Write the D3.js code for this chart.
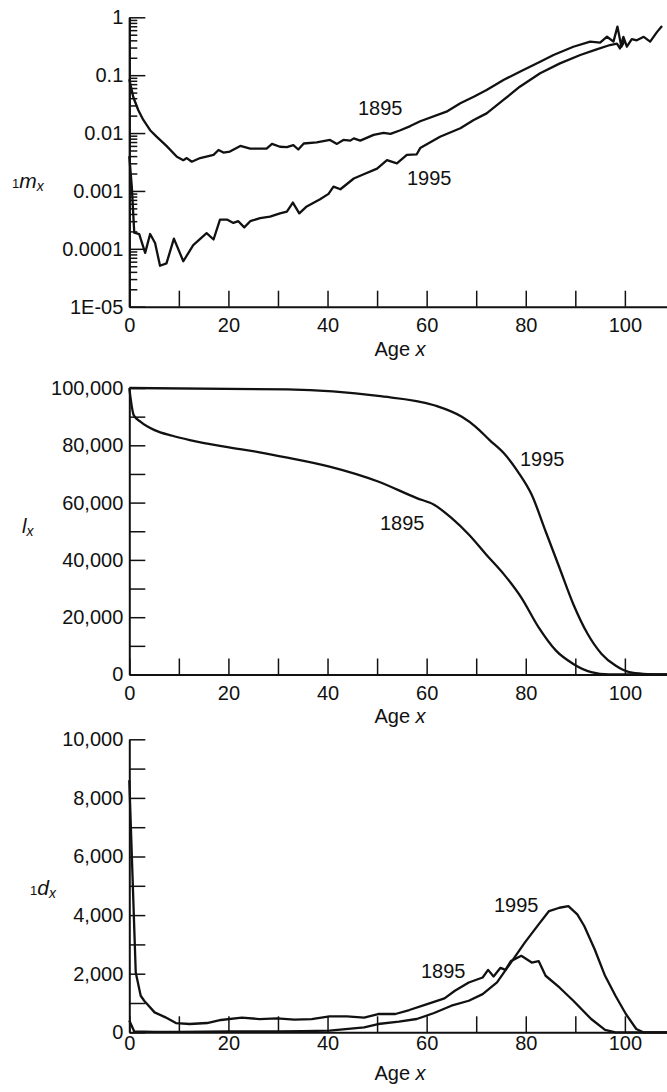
<!DOCTYPE html>
<html>
<head>
<meta charset="utf-8">
<script src="https://cdn.jsdelivr.net/npm/d3@7"></script>
<style>
  body { margin: 0; background: #fff; }
  svg { display: block; font-family: "Liberation Sans", Arial, sans-serif; }
  .axis path { stroke: #111; stroke-width: 2; }
  .axis line { stroke: #111; stroke-width: 1.5; }
  .axis text { font-size: 20px; fill: #111; font-family: "Liberation Sans", Arial, sans-serif; }
  .curve { fill: none; stroke: #111; stroke-width: 2.3; stroke-linejoin: round; }
  .lbl { font-size: 20px; fill: #111; }
</style>
</head>
<body>
<svg id="chart" width="667" height="1092"></svg>
<script>
// ---- data ----
// death rates 1mx (log scale)
var mxAge1895 = [0, 0.8, 1.8, 2.8, 4.2, 5.5, 7.5, 9.6, 10.9, 11.6, 12.6, 14.3, 17, 18, 19, 20.3, 22.4, 24.4, 27.7, 28.8, 30.4, 31.8, 33.1, 34.1, 35.2, 37.8, 40.5, 41.9, 43.2, 44.6, 45.3, 46.6, 49.3, 51.3, 52.7, 54.7, 56.7, 58.7, 64, 66.8, 69.5, 72.1, 75.5, 78.8, 82.9, 85.6, 89.6, 93, 95, 96.4, 97.7, 98.5, 99.3, 100];
var mx1895 = [0.085, 0.042, 0.025, 0.017, 0.0112, 0.0087, 0.006, 0.0039, 0.0034, 0.0037, 0.0032, 0.0037, 0.0042, 0.0051, 0.0046, 0.0048, 0.006, 0.0054, 0.0054, 0.0065, 0.0058, 0.0057, 0.0062, 0.0052, 0.0066, 0.0069, 0.0076, 0.0065, 0.0076, 0.0074, 0.0081, 0.0074, 0.0093, 0.0101, 0.0097, 0.0112, 0.0132, 0.016, 0.0234, 0.0327, 0.0425, 0.0555, 0.0826, 0.115, 0.171, 0.223, 0.31, 0.379, 0.364, 0.462, 0.38, 0.69, 0.31, 0.40];
var mxAge1995 = [0, 0.5, 1, 2, 3.2, 4.2, 5.2, 6.2, 7.5, 9, 10.9, 12.9, 15.6, 17, 18.3, 19.7, 21, 22, 23.2, 24.4, 26.4, 28.4, 30.4, 31.8, 33, 34.3, 35.8, 38.5, 40.2, 41.2, 42.6, 45.3, 47.3, 50, 52, 54, 56, 58, 58.7, 62.7, 66.8, 69.5, 72.1, 75.5, 78.8, 82.9, 86.9, 91, 94.3, 97, 98.4, 99, 99.7, 100.4, 101.4, 102.4, 103.8, 105.1, 106.5, 107.5];
var mx1995 = [0.004, 0.0012, 0.00019, 0.00018, 0.000085, 0.00018, 0.000126, 0.000051, 0.000056, 0.00015, 0.000061, 0.000116, 0.000186, 0.000145, 0.00032, 0.00032, 0.00028, 0.0003, 0.000235, 0.0003, 0.00034, 0.00036, 0.00041, 0.00044, 0.00063, 0.00041, 0.00054, 0.00072, 0.00089, 0.00119, 0.00107, 0.00164, 0.00194, 0.00243, 0.0034, 0.003, 0.0042, 0.0043, 0.0055, 0.00865, 0.0121, 0.0168, 0.0219, 0.0373, 0.0633, 0.108, 0.160, 0.223, 0.28, 0.332, 0.35, 0.29, 0.46, 0.31, 0.42, 0.40, 0.46, 0.38, 0.56, 0.71];

// survivors lx
var lxAge1895 = [0, 0.9, 2.3, 5.1, 8.7, 12.2, 19.2, 26.3, 31.9, 40.4, 50.2, 58, 61.5, 65, 68.5, 72, 75.6, 79.1, 82.6, 86.1, 89.6, 93.2, 96.7, 108.5];
var lx1895 = [100000, 90510, 88190, 85300, 83330, 81830, 79510, 77550, 75690, 72570, 67360, 61570, 59260, 54630, 48840, 41900, 34950, 26850, 16440, 8330, 3700, 810, 0, 0];
var lxAge1995 = [0, 31.9, 50.2, 61.5, 67.1, 69.9, 72.7, 75.6, 78.4, 81.2, 84, 86.8, 89.6, 92.5, 95.3, 98.1, 100.9, 103.7, 108.5];
var lx1995 = [100000, 99540, 97220, 93980, 89930, 86460, 81830, 77200, 70830, 62730, 50000, 37270, 24540, 14120, 7180, 3125, 810, 230, 0];

// deaths 1dx
var dxAge1895 = [0, 1.3, 2.3, 3, 5.1, 7.3, 9.4, 12.2, 15.7, 18.5, 22.7, 26.3, 29.8, 33.3, 36.8, 40.4, 43.9, 47.4, 50.2, 53.7, 56.5, 60.1, 63.6, 65.7, 68.5, 71.3, 72.4, 73.5, 74.9, 75.9, 77, 79.1, 81.2, 82.6, 84, 86.8, 89.6, 93.2, 96, 98.1, 108.5];
var dx1895 = [8600, 2040, 1247, 1077, 680, 510, 316, 283, 317, 420, 499, 453, 476, 431, 453, 544, 544, 499, 624, 624, 760, 964, 1156, 1417, 1701, 1870, 2130, 1905, 2200, 2130, 2430, 2610, 2380, 2430, 1930, 1530, 1077, 453, 80, 0, 0];
var dxAge1995 = [0, 1, 5, 10, 15, 20, 25, 30, 35, 40.4, 47.4, 50.2, 54.4, 58, 61.5, 65, 68.5, 71.3, 74.2, 77, 79.8, 82.6, 84.7, 86.8, 88.6, 90.4, 91.8, 93.9, 96, 98.1, 100.2, 102.3, 103.7, 108.5];
var dx1995 = [400, 30, 15, 12, 20, 30, 30, 35, 40, 55, 170, 283, 363, 454, 658, 907, 1077, 1304, 1701, 2381, 3061, 3685, 4138, 4251, 4308, 4025, 3628, 2834, 1927, 1247, 624, 113, 0, 0];

// tick values and labels
var xTicks = [0, 10, 20, 30, 40, 50, 60, 70, 80, 90, 100];
var mxTicks = [1, 0.1, 0.01, 0.001, 0.0001, 0.00001];
var mxTickLabels = ["1", "0.1", "0.01", "0.001", "0.0001", "1E-05"];
var lxTicks = [0, 10000, 20000, 30000, 40000, 50000, 60000, 70000, 80000, 90000, 100000];
var dxTicks = [0, 1000, 2000, 3000, 4000, 5000, 6000, 7000, 8000, 9000, 10000];

var svg = d3.select("#chart");
var fmt = d3.format(",");

// shared age scale
var x = d3.scaleLinear().domain([0, 108.5]).range([129.3, 667]);

var line = function(y, curve) {
  return d3.line()
    .curve(curve || d3.curveLinear)
    .x(function(d) { return x(d[0]); })
    .y(function(d) { return y(d[1]); });
};

// x axis with inward ticks
function drawXAxis(y0, pad) {
  svg.append("g")
    .attr("class", "axis")
    .attr("transform", "translate(0," + y0 + ")")
    .call(d3.axisBottom(x).tickValues(xTicks).tickSizeInner(-16).tickSizeOuter(0).tickPadding(pad)
      .tickFormat(function(d) { return d % 20 === 0 ? d : ""; }));
}

function ageTitle(yb) {
  var t = svg.append("text").attr("class", "lbl").attr("x", 400).attr("y", yb).attr("text-anchor", "middle");
  t.append("tspan").text("Age ");
  t.append("tspan").attr("font-style", "italic").text("x");
}

// ---------- panel 1: 1mx ----------
var y1 = d3.scaleLog().domain([0.00001, 1]).range([306.7, 17.3]);

var minor = [];
mxTicks.slice(1).forEach(function(d) {
  for (var k = 2; k <= 9; k++) minor.push(d * k);
});
svg.append("g")
  .attr("class", "axis")
  .attr("transform", "translate(" + x(0) + ",0)")
  .call(d3.axisLeft(y1).tickValues(minor).tickSizeInner(-8).tickSizeOuter(0).tickFormat(""));
svg.append("g")
  .attr("class", "axis")
  .attr("transform", "translate(" + x(0) + ",0)")
  .call(d3.axisLeft(y1).tickValues(mxTicks).tickSizeInner(-16).tickSizeOuter(0).tickPadding(6)
    .tickFormat(function(d, i) { return mxTickLabels[i]; }));
drawXAxis(y1.range()[0], 11);
ageTitle(356);

svg.append("path").attr("class", "curve").attr("d", line(y1)(d3.zip(mxAge1895, mx1895)));
svg.append("path").attr("class", "curve").attr("d", line(y1)(d3.zip(mxAge1995, mx1995)));
svg.append("text").attr("class", "lbl").attr("x", 358).attr("y", 115).text("1895");
svg.append("text").attr("class", "lbl").attr("x", 407).attr("y", 185).text("1995");

var t1 = svg.append("text").attr("class", "lbl").attr("x", 12).attr("y", 188);
t1.append("tspan").attr("font-size", 13).text("1");
t1.append("tspan").attr("font-style", "italic").attr("font-size", 21).text("m");
t1.append("tspan").attr("font-style", "italic").attr("font-size", 14).attr("dy", 3).text("x");

// ---------- panel 2: lx ----------
var y2 = d3.scaleLinear().domain([0, 100000]).range([674.5, 388]);
svg.append("g")
  .attr("class", "axis")
  .attr("transform", "translate(" + x(0) + ",0)")
  .call(d3.axisLeft(y2).tickValues(lxTicks).tickSizeInner(-16).tickSizeOuter(0).tickPadding(6)
    .tickFormat(function(d) { return d % 20000 === 0 ? fmt(d) : ""; }));
drawXAxis(y2.range()[0], 11);
ageTitle(723);

// survivorship curves are smooth in the original
svg.append("path").attr("class", "curve").attr("d", line(y2, d3.curveMonotoneX)(d3.zip(lxAge1895, lx1895)));
svg.append("path").attr("class", "curve").attr("d", line(y2, d3.curveMonotoneX)(d3.zip(lxAge1995, lx1995)));
svg.append("text").attr("class", "lbl").attr("x", 520).attr("y", 466).text("1995");
svg.append("text").attr("class", "lbl").attr("x", 380).attr("y", 530).text("1895");

var t2 = svg.append("text").attr("class", "lbl").attr("x", 22).attr("y", 533);
t2.append("tspan").attr("font-style", "italic").attr("font-size", 20).text("l");
t2.append("tspan").attr("font-style", "italic").attr("font-size", 14).attr("dy", 3).text("x");

// ---------- panel 3: 1dx ----------
var y3 = d3.scaleLinear().domain([0, 10000]).range([1032.3, 739.3]);
svg.append("g")
  .attr("class", "axis")
  .attr("transform", "translate(" + x(0) + ",0)")
  .call(d3.axisLeft(y3).tickValues(dxTicks).tickSizeInner(-16).tickSizeOuter(0).tickPadding(6)
    .tickFormat(function(d) { return d % 2000 === 0 ? fmt(d) : ""; }));
drawXAxis(y3.range()[0], 3);
ageTitle(1080);

svg.append("path").attr("class", "curve").attr("d", line(y3)(d3.zip(dxAge1895, dx1895)));
svg.append("path").attr("class", "curve").attr("d", line(y3)(d3.zip(dxAge1995, dx1995)));
svg.append("text").attr("class", "lbl").attr("x", 494).attr("y", 912).text("1995");
svg.append("text").attr("class", "lbl").attr("x", 421).attr("y", 978).text("1895");

var t3 = svg.append("text").attr("class", "lbl").attr("x", 30).attr("y", 895);
t3.append("tspan").attr("font-size", 13).text("1");
t3.append("tspan").attr("font-style", "italic").attr("font-size", 21).text("d");
t3.append("tspan").attr("font-style", "italic").attr("font-size", 14).attr("dy", 3).text("x");
</script>
</body>
</html>
